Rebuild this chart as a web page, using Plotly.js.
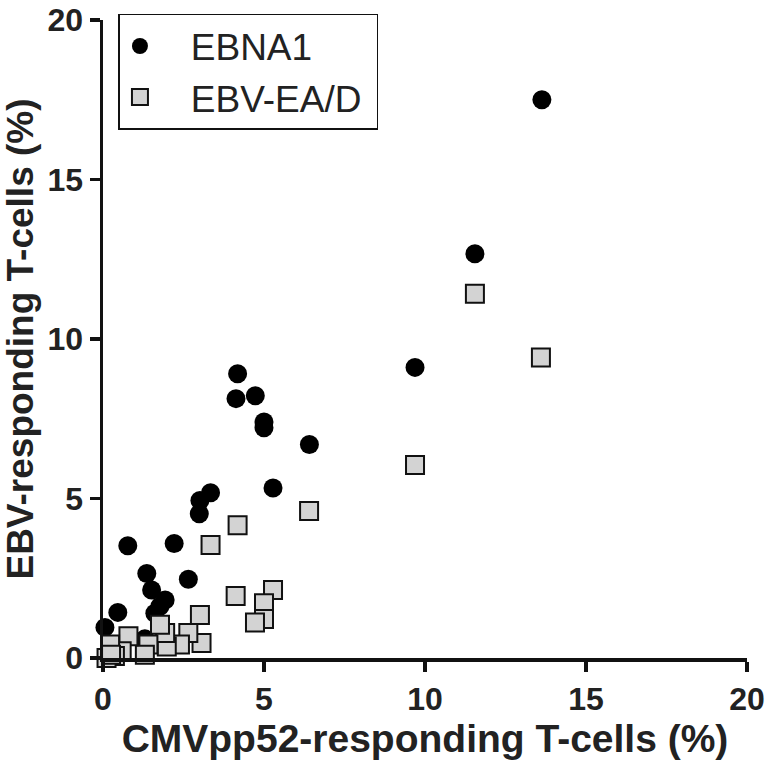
<!DOCTYPE html>
<html>
<head>
<meta charset="utf-8">
<script src="https://cdn.plot.ly/plotly-3.0.1.min.js"></script>
<style>html,body{margin:0;padding:0;background:#fff;}#chart{width:766px;height:764px;}</style>
</head>
<body>
<div id="chart"></div>
<script>
// EBNA1 (circles)
const ebna1X = [13.63, 11.55, 9.69, 6.41, 5.28, 5.0, 5.0, 4.73, 4.18, 4.13, 3.34, 3.01, 2.99, 2.65, 2.21, 1.93, 1.77, 1.61, 1.51, 1.36, 0.77, 0.46, 0.06, 0.25, 1.3];
const ebna1Y = [17.50, 12.67, 9.11, 6.69, 5.33, 7.40, 7.22, 8.22, 8.91, 8.13, 5.18, 4.94, 4.52, 2.47, 3.59, 1.82, 1.62, 1.40, 2.13, 2.65, 3.52, 1.43, 0.96, 0.3, 0.6];
// EBV-EA/D (squares)
const eadX = [13.6, 11.55, 9.69, 6.40, 5.28, 5.0, 5.0, 4.72, 4.18, 4.12, 3.34, 3.01, 3.06, 2.65, 2.39, 1.98, 1.93, 1.77, 1.41, 1.30, 0.79, 0.58, 0.22, 0.37, 0.11, 0.25];
const eadY = [9.42, 11.42, 6.05, 4.61, 2.13, 1.72, 1.22, 1.11, 4.16, 1.94, 3.54, 1.35, 0.47, 0.78, 0.42, 0.36, 0.78, 1.04, 0.42, 0.10, 0.68, 0.21, 0.42, 0.06, 0.0, 0.10];
const tickVals = [0, 5, 10, 15, 20];
const tickText = ['0', '5', '10', '15', '20'];
const seriesNames = ['EBNA1', 'EBV-EA/D'];

const pad = '\u00A0\u00A0\u00A0';
const traces = [
  {type: 'scatter', mode: 'markers', name: pad + seriesNames[0], x: ebna1X, y: ebna1Y,
   marker: {symbol: 'circle', size: 19, color: '#000000', line: {width: 0}}, cliponaxis: false},
  {type: 'scatter', mode: 'markers', name: pad + seriesNames[1] + '\u00A0', x: eadX, y: eadY,
   marker: {symbol: 'square', size: 18, color: '#d3d3d3', line: {width: 2, color: '#111111'}}, cliponaxis: false}
];

const fam = 'Liberation Sans, Arial, sans-serif';
const axisFont = {family: fam, size: 32, color: '#222222', weight: 'bold'};
const layout = {
  width: 766, height: 764,
  margin: {l: 103, r: 19, t: 20, b: 106},
  paper_bgcolor: '#ffffff', plot_bgcolor: '#ffffff',
  showlegend: true,
  legend: {x: 0.024, y: 1.0095, xanchor: 'left', yanchor: 'top', bgcolor: '#ffffff',
           bordercolor: '#111111', borderwidth: 1.5,
           font: {family: fam, size: 37, color: '#222222'},
           itemwidth: 30},
  xaxis: {range: [0, 20], tickvals: tickVals, ticktext: tickText, showgrid: false, zeroline: false,
          showline: true, linecolor: '#111111', linewidth: 3.5, ticks: 'outside', ticklen: 10,
          tickwidth: 3.5, tickcolor: '#111111', tickfont: axisFont, ticklabeloverflow: 'allow',
          title: {text: 'CMVpp52-responding T-cells (%)', font: {family: fam, size: 39, color: '#222222', weight: 'bold'}, standoff: 8}},
  yaxis: {range: [0, 20], tickvals: tickVals, ticktext: tickText, showgrid: false, zeroline: false,
          showline: true, linecolor: '#111111', linewidth: 3.5, ticks: 'outside', ticklen: 10,
          tickwidth: 3.5, tickcolor: '#111111', tickfont: axisFont, ticklabeloverflow: 'allow',
          title: {text: 'EBV-responding T-cells (%)', font: {family: fam, size: 37, color: '#222222', weight: 'bold'}, standoff: 16}}
};
Plotly.newPlot('chart', traces, layout, {displayModeBar: false, staticPlot: true});
</script>
</body>
</html>
